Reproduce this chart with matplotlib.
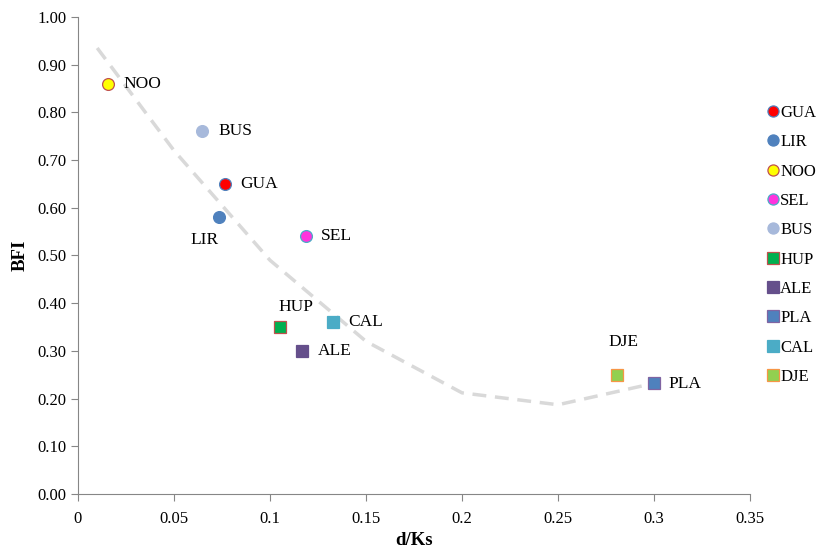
import matplotlib.pyplot as plt
from matplotlib.lines import Line2D
from matplotlib.ticker import FormatStrFormatter

plt.rcParams['font.family'] = ['Liberation Serif', 'DejaVu Serif']

# sites
names = ['GUA', 'LIR', 'NOO', 'SEL', 'BUS', 'HUP', 'ALE', 'PLA', 'CAL', 'DJE']
dks = [0.0766, 0.0734, 0.0156, 0.1188, 0.0646, 0.105, 0.1167, 0.300, 0.1328, 0.2807]
bfi = [0.65, 0.58, 0.86, 0.54, 0.76, 0.35, 0.30, 0.233, 0.36, 0.25]
markers = ['o', 'o', 'o', 'o', 'o', 's', 's', 's', 's', 's']
fills = ['#FF0000', '#4F81BD', '#FFFF00', '#FF33DD', '#A7B9DB',
         '#00B050', '#654F8B', '#4F81BD', '#4BACC6', '#92D050']
edges = ['#4F81BD', '#4F81BD', '#C0504D', '#4BACC6', '#A7B9DB',
         '#C0504D', '#654F8B', '#8064A2', '#4BACC6', '#F79646']
# label offsets in pixels (dx, dy, ha)
offs = [(15, 0, 'left'), (-14, -23, 'center'), (16, 0, 'left'), (15, 0, 'left'),
        (16, 0, 'left'), (16, 20, 'center'), (16, 0, 'left'), (14, -1, 'left'),
        (15, 0, 'left'), (7, 33, 'center')]

# trend curve
trend_x = [0.01, 0.05, 0.1, 0.15, 0.2, 0.25, 0.3]
trend_y = [0.935, 0.72, 0.49, 0.32, 0.212, 0.187, 0.232]

fig = plt.figure(figsize=(8.21, 5.55), dpi=100)
ax = fig.add_axes([0.095, 0.11, 0.8185, 0.8594])

ax.plot(trend_x, trend_y, color='#D9D9D9', lw=2.5, ls=(0, (4, 2.5)), zorder=1)

handles = []
for i in range(len(names)):
    ax.plot(dks[i], bfi[i], marker=markers[i], ms=8.5, mfc=fills[i], mec=edges[i],
            mew=0.9, ls='none', zorder=3)
    dx, dy, ha = offs[i]
    ax.annotate(names[i], (dks[i], bfi[i]), xytext=(dx, dy), textcoords='offset pixels',
                ha=ha, va='center', fontsize=12.5)
    handles.append(Line2D([], [], marker=markers[i], ms=8, mfc=fills[i], mec=edges[i],
                          mew=0.9, ls='none', label=names[i]))

ax.set_xlim(0, 0.35)
ax.set_ylim(0, 1.0)
ax.set_xticks([0, 0.05, 0.1, 0.15, 0.2, 0.25, 0.3, 0.35])
ax.set_xticklabels(['0', '0.05', '0.1', '0.15', '0.2', '0.25', '0.3', '0.35'])
ax.set_yticks([i / 10 for i in range(11)])
ax.yaxis.set_major_formatter(FormatStrFormatter('%.2f'))
ax.tick_params(labelsize=12, color='#868686', length=5, direction='out')
ax.tick_params(axis='x', pad=7)
for s in ['top', 'right']:
    ax.spines[s].set_visible(False)
for s in ['left', 'bottom']:
    ax.spines[s].set_color('#868686')

ax.set_xlabel('d/Ks', fontsize=13.5, fontweight='bold', labelpad=4)
ax.set_ylabel('BFI', fontsize=13.5, fontweight='bold', labelpad=6)

fig.legend(handles=handles, loc='upper left', bbox_to_anchor=(0.925, 0.826),
           frameon=False, fontsize=12, handlelength=0.6, handletextpad=0.15,
           labelspacing=0.8, borderpad=0)

fig.savefig('out.png', dpi=100)
